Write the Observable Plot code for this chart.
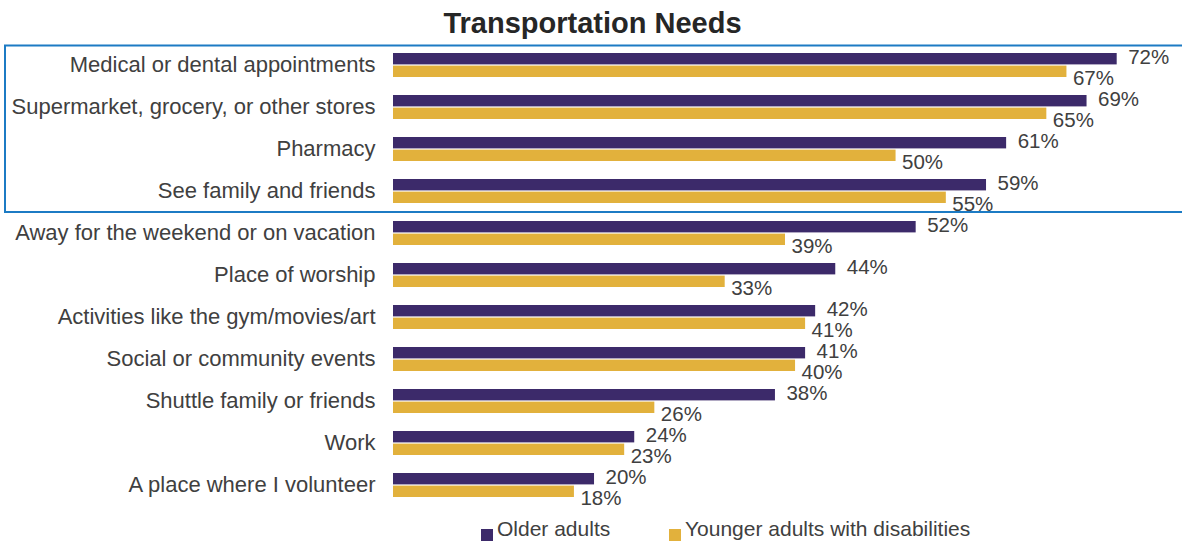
<!DOCTYPE html>
<html>
<head>
<meta charset="utf-8">
<script src="https://cdn.jsdelivr.net/npm/d3@7"></script>
<script src="https://cdn.jsdelivr.net/npm/@observablehq/plot@0.6"></script>
<style>
  html, body { margin: 0; padding: 0; background: #fff; }
  body { width: 1182px; height: 544px; overflow: hidden; font-family: "Liberation Sans", Arial, sans-serif; }
  #title { position: relative; height: 40px; }
  #title span { position: absolute; left: 0; width: 1185px; top: 9px; text-align: center; font-size: 29px; line-height: 28px; font-weight: bold; color: #262626; }
  #chart svg { display: block; }
  #legend { position: relative; height: 30px; }
  #legend .sw { position: absolute; top: 15px; width: 12px; height: 12px; }
  #legend .lb { position: absolute; top: 5px; font-size: 21px; line-height: 20px; color: #404040; white-space: nowrap; }
</style>
</head>
<body>
<div id="title"><span>Transportation Needs</span></div>
<div id="chart"></div>
<div id="legend"></div>
<script>
const categories = [
  "Medical or dental appointments",
  "Supermarket, grocery, or other stores",
  "Pharmacy",
  "See family and friends",
  "Away for the weekend or on vacation",
  "Place of worship",
  "Activities like the gym/movies/art",
  "Social or community events",
  "Shuttle family or friends",
  "Work",
  "A place where I volunteer"
];
const olderAdults = [72, 69, 61, 59, 52, 44, 42, 41, 38, 24, 20];
const youngerAdults = [67, 65, 50, 55, 39, 33, 41, 40, 26, 23, 18];
const seriesNames = ["Older adults", "Younger adults with disabilities"];
const seriesColors = ["#3C2A6A", "#E2B13C"];
const highlighted = categories.slice(0, 4);

const olderRows = categories.map((c, i) => ({category: c, value: olderAdults[i]}));
const youngerRows = categories.map((c, i) => ({category: c, value: youngerAdults[i]}));

const boxMark = (index, scales, values, dimensions) => {
  const y = scales.y;
  const bw = y.bandwidth(), step = y.step();
  const top = y(highlighted[0]) + bw / 2 - step / 2 + 1.5;
  const bottom = y(highlighted[highlighted.length - 1]) + bw / 2 + step / 2;
  return d3.create("svg:rect")
    .attr("x", 5).attr("y", top)
    .attr("width", dimensions.width + 20).attr("height", bottom - top)
    .attr("fill", "none").attr("stroke", "#1C7BC4").attr("stroke-width", 2)
    .node();
};

const chart = Plot.plot({
  width: 1182,
  height: 474,
  marginTop: 2,
  marginBottom: 5.5,
  marginLeft: 393,
  marginRight: 5,
  style: {fontFamily: "'Liberation Sans', Arial, sans-serif", color: "#404040", background: "#fff"},
  x: {domain: [0, 78], axis: null},
  y: {domain: categories, paddingInner: 0.43, paddingOuter: 0.215, axis: null},
  marks: [
    boxMark,
    Plot.barX(olderRows, {x: "value", y: "category", fill: seriesColors[0], insetBottom: 12.6}),
    Plot.barX(youngerRows, {x: "value", y: "category", fill: seriesColors[1], insetTop: 12.6}),
    Plot.axisY({tickSize: 0, tickPadding: 18, fontSize: 22, dy: -1, label: null}),
    Plot.text(olderRows, {x: "value", y: "category", text: d => d.value + "%", textAnchor: "start", dx: 11, dy: -8, fontSize: 20.5, fill: "#404040"}),
    Plot.text(youngerRows, {x: "value", y: "category", text: d => d.value + "%", textAnchor: "start", dx: 6, dy: 12.5, fontSize: 20.5, fill: "#404040"})
  ]
});
document.getElementById("chart").appendChild(chart);

const legend = document.getElementById("legend");
const swatchX = [481, 669];
const labelX = [497, 685];
seriesNames.forEach((name, i) => {
  const sw = document.createElement("div");
  sw.className = "sw";
  sw.style.left = swatchX[i] + "px";
  sw.style.background = seriesColors[i];
  legend.appendChild(sw);
  const lb = document.createElement("div");
  lb.className = "lb";
  lb.style.left = labelX[i] + "px";
  lb.textContent = name;
  legend.appendChild(lb);
});
</script>
</body>
</html>
